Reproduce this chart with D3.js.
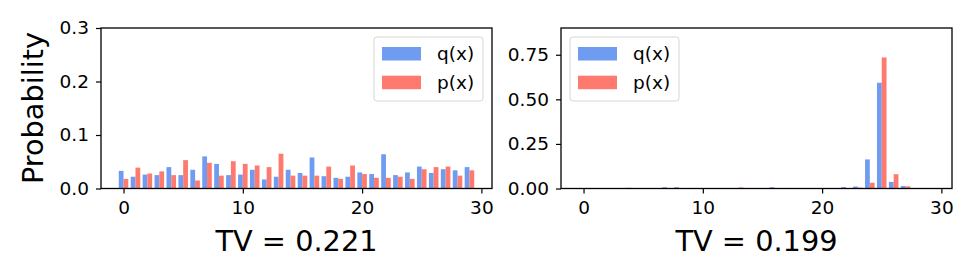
<!DOCTYPE html>
<html lang="en">
<head>
    <meta charset="UTF-8">
    <title>q(x) vs p(x)</title>
    <script src="https://cdnjs.cloudflare.com/ajax/libs/d3/7.8.5/d3.min.js"></script>
    <style>
        body {
            margin: 0;
            background: white;
        }
        svg text {
            font-family: "DejaVu Sans", sans-serif;
        }
    </style>
</head>
<body>
    <svg id="chart" width="977" height="279"></svg>

    <script>
        // Data
        const xIndex = d3.range(30);
        const seriesNames = ["q(x)", "p(x)"];
        const seriesColors = ["#6f9cf0", "#ff7a6e"];

        const qLeft = [0.033, 0.022, 0.026, 0.025, 0.040, 0.025, 0.035, 0.060, 0.046, 0.025,
                       0.026, 0.035, 0.017, 0.022, 0.035, 0.029, 0.058, 0.023, 0.020, 0.022,
                       0.030, 0.027, 0.064, 0.025, 0.030, 0.041, 0.029, 0.036, 0.034, 0.040];
        const pLeft = [0.018, 0.039, 0.028, 0.032, 0.025, 0.053, 0.015, 0.048, 0.024, 0.051,
                       0.046, 0.043, 0.040, 0.065, 0.024, 0.024, 0.024, 0.041, 0.018, 0.043,
                       0.027, 0.020, 0.020, 0.022, 0.018, 0.036, 0.040, 0.041, 0.024, 0.034];

        const qRight = [0.002, 0, 0, 0, 0.004, 0, 0.002, 0.007, 0.007, 0,
                        0, 0.002, 0, 0, 0.002, 0, 0.007, 0, 0, 0,
                        0.002, 0.002, 0.008, 0.011, 0.163, 0.593, 0.037, 0.014, 0.003, 0.003];
        const pRight = [0, 0.002, 0, 0, 0, 0.002, 0, 0.003, 0, 0.003,
                        0, 0, 0, 0.006, 0, 0, 0, 0.003, 0, 0.002,
                        0, 0, 0, 0.005, 0.032, 0.735, 0.080, 0.012, 0.002, 0];

        const xTicks = [0, 10, 20, 30];
        const yTicksLeft = [0, 0.1, 0.2, 0.3];
        const yTicksRight = [0, 0.25, 0.5, 0.75];
        const titles = ["TV = 0.221", "TV = 0.199"];

        const svg = d3.select("#chart");

        // panel boxes (pixels)
        const panels = [
            { left: 101, right: 492, top: 28, bottom: 188.5, q: qLeft, p: pLeft,
              yMax: 0.3, yTicks: yTicksLeft, yFmt: d3.format(".1f"), title: titles[0], legendX: 374 },
            { left: 561, right: 952, top: 28, bottom: 188.5, q: qRight, p: pRight,
              yMax: 0.9, yTicks: yTicksRight, yFmt: d3.format(".2f"), title: titles[1], legendX: 570 }
        ];

        const barW = 0.4;

        panels.forEach(pan => {
            const x = d3.scaleLinear().domain([-1.89, 30.89]).range([pan.left, pan.right]);
            const y = d3.scaleLinear().domain([0, pan.yMax]).range([pan.bottom, pan.top]);
            const g = svg.append("g");

            // bars
            [pan.q, pan.p].forEach((vals, s) => {
                g.selectAll(null)
                    .data(xIndex)
                    .enter()
                    .append("rect")
                    .attr("x", i => x(s === 0 ? i - barW : i))
                    .attr("width", x(barW) - x(0))
                    .attr("y", i => y(vals[i]))
                    .attr("height", i => y(0) - y(vals[i]))
                    .attr("fill", seriesColors[s]);
            });

            // axes
            const xAxis = g.append("g")
                .attr("transform", `translate(0,${pan.bottom})`)
                .call(d3.axisBottom(x).tickValues(xTicks).tickSize(5).tickPadding(7).tickFormat(d3.format("d")));
            const yAxis = g.append("g")
                .attr("transform", `translate(${pan.left},0)`)
                .call(d3.axisLeft(y).tickValues(pan.yTicks).tickSize(5).tickPadding(7).tickFormat(pan.yFmt));
            [xAxis, yAxis].forEach(a => {
                a.select(".domain").remove();
                a.selectAll("line").attr("stroke", "#000").attr("stroke-width", 1.2);
                a.selectAll("text").attr("font-size", "18.5px").attr("fill", "#000")
                    .style("font-family", "DejaVu Sans");
            });

            // frame
            g.append("rect")
                .attr("x", pan.left).attr("y", pan.top)
                .attr("width", pan.right - pan.left).attr("height", pan.bottom - pan.top)
                .attr("fill", "none").attr("stroke", "#000").attr("stroke-width", 1.3);

            // legend
            const lg = g.append("g").attr("transform", `translate(${pan.legendX},37)`);
            lg.append("rect")
                .attr("width", 109).attr("height", 64).attr("rx", 3)
                .attr("fill", "white").attr("fill-opacity", 0.8)
                .attr("stroke", "#d6d6d6").attr("stroke-width", 1);
            seriesNames.forEach((name, s) => {
                lg.append("rect")
                    .attr("x", 8).attr("y", 10 + s * 28.7)
                    .attr("width", 39).attr("height", 13.5)
                    .attr("fill", seriesColors[s]);
                lg.append("text")
                    .attr("x", 63).attr("y", 17 + s * 28.7)
                    .attr("dy", "0.35em")
                    .attr("font-size", "18.5px")
                    .text(name);
            });

            // title below
            g.append("text")
                .attr("x", (pan.left + pan.right) / 2)
                .attr("y", 251)
                .attr("text-anchor", "middle")
                .attr("font-size", "28.8px")
                .text(pan.title);
        });

        // y label
        svg.append("text")
            .attr("transform", "translate(43,108) rotate(-90)")
            .attr("text-anchor", "middle")
            .attr("font-size", "28.8px")
            .text("Probability");
    </script>
</body>
</html>
